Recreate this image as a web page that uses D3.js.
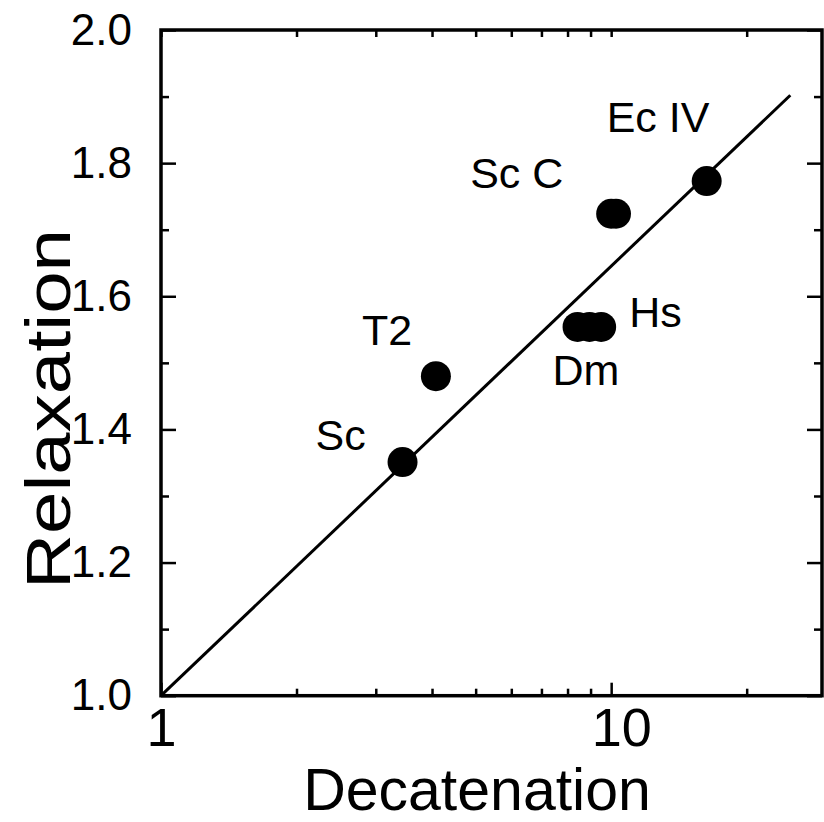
<!DOCTYPE html>
<html>
<head>
<meta charset="utf-8">
<script src="https://cdn.jsdelivr.net/npm/d3@7"></script>
<style>
  body { margin: 0; background: #fff; }
  svg text { font-family: "Liberation Sans", Arial, sans-serif; fill: #000; }
</style>
</head>
<body>
<svg id="chart" width="824" height="822"></svg>
<script>
// measured points (some organisms appear as overlapping dots)
var pointName = ["Sc", "T2", "Dm", "Dm", "Hs", "Sc C", "Sc C", "Ec IV"];
var decatenation = [3.44, 4.08, 8.42, 8.95, 9.5, 10.0, 10.25, 16.3];
var relaxation = [1.351, 1.480, 1.554, 1.554, 1.554, 1.724, 1.724, 1.773];

// fitted line end points
var fitDecat = [1, 25];
var fitRelax = [1.0, 1.902];

var xMajorTicks = [1, 10];
var xMinorTicks = [2, 3, 4, 5, 6, 7, 8, 9, 20];
var yMajorTicks = [1.0, 1.2, 1.4, 1.6, 1.8, 2.0];
var yMinorTicks = [1.1, 1.3, 1.5, 1.7, 1.9];

var plotLeft = 161, plotRight = 822, plotTop = 30, plotBottom = 695.7;

var svg = d3.select('#chart');

var x = d3.scaleLog().domain([1, 29.4]).range([plotLeft, plotRight]);
var y = d3.scaleLinear().domain([1, 2]).range([plotBottom, plotTop]);

// label offsets from the labelled dot, in px
var labelOffset = {
    "Sc": [-87, -12],
    "T2": [-74, -31],
    "Dm": [-25, 58],
    "Hs": [28, 0],
    "Sc C": [-141, -26],
    "Ec IV": [-100, -49]
};

// axes - ticks point into the plot
function noLabel() { return ""; }

svg.append('g')
    .attr('transform', 'translate(0,' + plotBottom + ')')
    .call(d3.axisBottom(x).tickValues(xMajorTicks).tickSize(-13).tickPadding(12)
        .tickFormat(d3.format("d")))
    .call(function (g) {
        g.select('.domain').remove();
        g.selectAll('text').attr('font-size', 54)
            .attr('dx', function (d) { return d === 10 ? 10 : 0; });
    });
svg.append('g')
    .attr('transform', 'translate(0,' + plotBottom + ')')
    .call(d3.axisBottom(x).tickValues(xMinorTicks).tickSize(-7).tickFormat(noLabel))
    .call(function (g) { g.select('.domain').remove(); });
svg.append('g')
    .attr('transform', 'translate(0,' + plotTop + ')')
    .call(d3.axisTop(x).tickValues(xMajorTicks.concat(xMinorTicks))
        .tickSize(-7).tickFormat(noLabel))
    .call(function (g) { g.select('.domain').remove(); });

svg.append('g')
    .attr('transform', 'translate(' + plotLeft + ',0)')
    .call(d3.axisLeft(y).tickValues(yMajorTicks).tickSize(-15).tickPadding(29)
        .tickFormat(d3.format(".1f")))
    .call(function (g) {
        g.select('.domain').remove();
        g.selectAll('text').attr('font-size', 44);
    });
svg.append('g')
    .attr('transform', 'translate(' + plotLeft + ',0)')
    .call(d3.axisLeft(y).tickValues(yMinorTicks).tickSize(-8).tickFormat(noLabel))
    .call(function (g) { g.select('.domain').remove(); });
svg.append('g')
    .attr('transform', 'translate(' + plotRight + ',0)')
    .call(d3.axisRight(y).tickValues(yMajorTicks).tickSize(-15).tickFormat(noLabel))
    .call(function (g) { g.select('.domain').remove(); });
svg.append('g')
    .attr('transform', 'translate(' + plotRight + ',0)')
    .call(d3.axisRight(y).tickValues(yMinorTicks).tickSize(-8).tickFormat(noLabel))
    .call(function (g) { g.select('.domain').remove(); });

svg.selectAll('.tick line').attr('stroke', '#000').attr('stroke-width', 2.5);

// frame
svg.append('rect')
    .attr('x', plotLeft).attr('y', plotTop)
    .attr('width', plotRight - plotLeft).attr('height', plotBottom - plotTop)
    .attr('fill', 'none').attr('stroke', '#000').attr('stroke-width', 3.5);

// fit line
var line = d3.line()
    .x(function (d) { return x(d[0]); })
    .y(function (d) { return y(d[1]); });
svg.append('path')
    .datum(d3.zip(fitDecat, fitRelax))
    .attr('d', line)
    .attr('fill', 'none')
    .attr('stroke', '#000')
    .attr('stroke-width', 3);

// dots
svg.selectAll('circle.pt')
    .data(d3.range(pointName.length))
    .enter()
    .append('circle')
    .attr('class', 'pt')
    .attr('cx', function (i) { return x(decatenation[i]); })
    .attr('cy', function (i) { return y(relaxation[i]); })
    .attr('r', 15)
    .attr('fill', '#000');

// labels, one per name at its first dot
var labelled = d3.range(pointName.length).filter(function (i) {
    return pointName.indexOf(pointName[i]) === i;
});
svg.selectAll('text.lbl')
    .data(labelled)
    .enter()
    .append('text')
    .attr('class', 'lbl')
    .attr('x', function (i) { return x(decatenation[i]) + labelOffset[pointName[i]][0]; })
    .attr('y', function (i) { return y(relaxation[i]) + labelOffset[pointName[i]][1]; })
    .attr('font-size', 43)
    .text(function (i) { return pointName[i]; });

// axis titles
svg.append('text')
    .attr('x', 477).attr('y', 810)
    .attr('text-anchor', 'middle')
    .attr('font-size', 59)
    .text('Decatenation');
svg.append('text')
    .attr('transform', 'translate(70,409) rotate(-90)')
    .attr('text-anchor', 'middle')
    .attr('font-size', 63)
    .attr('textLength', 360)
    .attr('lengthAdjust', 'spacingAndGlyphs')
    .text('Relaxation');
</script>
</body>
</html>
